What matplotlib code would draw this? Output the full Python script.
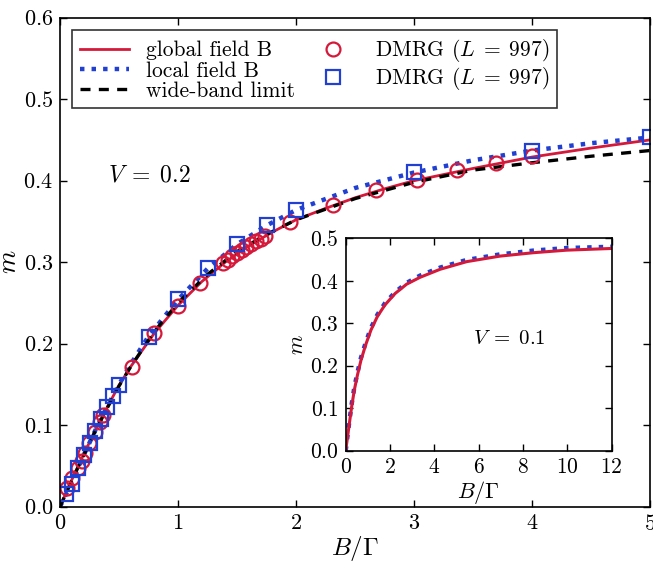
import matplotlib
matplotlib.use("Agg")
import matplotlib.pyplot as plt

plt.rcParams["font.family"] = "serif"
plt.rcParams["font.serif"] = ["cmr10"]
plt.rcParams["mathtext.fontset"] = "cm"
plt.rcParams["axes.formatter.use_mathtext"] = True

RED = "#d4193a"
BLUE = "#2140d2"

# V = 0.2, main panel
B_global = [0, 0.1, 0.2, 0.3, 0.4, 0.5, 0.6, 0.8, 1.0, 1.2, 1.4, 1.6, 1.8, 2.0,
            2.25, 2.5, 2.75, 3.0, 3.5, 4.0, 4.5, 5.0]
m_global = [0, 0.033, 0.064, 0.094, 0.122, 0.149, 0.172, 0.213, 0.247, 0.276,
            0.300, 0.320, 0.337, 0.352, 0.366, 0.379, 0.390, 0.400, 0.415,
            0.429, 0.440, 0.450]

B_local = [0, 0.1, 0.2, 0.3, 0.4, 0.5, 0.6, 0.75, 1.0, 1.25, 1.5, 1.75, 2.0,
           2.5, 3.0, 3.5, 4.0, 4.5, 5.0]
m_local = [0, 0.030, 0.063, 0.094, 0.123, 0.150, 0.175, 0.209, 0.254, 0.292,
           0.322, 0.345, 0.364, 0.391, 0.410, 0.425, 0.437, 0.446, 0.453]

B_wide = [0, 0.05, 0.1, 0.2, 0.3, 0.4, 0.5, 0.6, 0.8, 1.0, 1.25, 1.5, 1.75,
          2.0, 2.5, 3.0, 3.5, 4.0, 4.5, 5.0]
m_wide = [0, 0.016, 0.032, 0.063, 0.093, 0.121, 0.148, 0.172, 0.215, 0.250,
          0.285, 0.313, 0.334, 0.352, 0.378, 0.398, 0.413, 0.422, 0.430, 0.437]

# DMRG, global field
B_dmrg_g = [0.057, 0.099, 0.155, 0.184, 0.212, 0.248, 0.297, 0.339, 0.367,
            0.608, 0.797, 0.997, 1.186, 1.384, 1.42, 1.46, 1.50, 1.54, 1.58,
            1.62, 1.66, 1.70, 1.74, 1.949, 2.316, 2.678, 3.023, 3.362, 3.692,
            4.003]
m_dmrg_g = [0.0226, 0.0356, 0.047, 0.056, 0.0655, 0.078, 0.092, 0.104, 0.1125,
            0.172, 0.213, 0.246, 0.274, 0.299, 0.303, 0.307, 0.311, 0.315,
            0.319, 0.322, 0.326, 0.329, 0.332, 0.349, 0.370, 0.388, 0.401,
            0.413, 0.422, 0.430]

# DMRG, local field
B_dmrg_l = [0.05, 0.1, 0.15, 0.2, 0.25, 0.3, 0.35, 0.4, 0.45, 0.5, 0.75, 1.0,
            1.25, 1.5, 1.75, 2.0, 3.0, 4.0, 5.0]
m_dmrg_l = [0.015, 0.028, 0.047, 0.0634, 0.0785, 0.0929, 0.107, 0.1227, 0.136,
            0.149, 0.2086, 0.2545, 0.2925, 0.322, 0.3456, 0.364, 0.411, 0.4368,
            0.453]

# V = 0.1, inset
B_in = [0, 0.075, 0.165, 0.27, 0.39, 0.53, 0.69, 0.90, 1.14, 1.43, 1.77, 2.23,
        2.75, 3.35, 4.26, 5.46, 6.96, 8.47, 9.97, 12.0]
m_in_global = [0, 0.029, 0.064, 0.104, 0.143, 0.178, 0.213, 0.249, 0.284,
               0.316, 0.343, 0.370, 0.392, 0.408, 0.427, 0.445, 0.458, 0.466,
               0.472, 0.476]
m_in_local = [0, 0.032, 0.069, 0.110, 0.149, 0.184, 0.219, 0.254, 0.289,
              0.320, 0.347, 0.373, 0.395, 0.412, 0.431, 0.449, 0.462, 0.471,
              0.477, 0.480]


def style_axes(ax, size):
    ax.tick_params(which="both", direction="in", top=True, right=True,
                   length=5, width=1, labelsize=size, pad=5)
    for sp in ax.spines.values():
        sp.set_linewidth(1.2)


fig = plt.figure(figsize=(6.53, 5.63), dpi=100)
ax = fig.add_axes([0.0919, 0.1000, 0.9035, 0.8686])

l1, = ax.plot(B_global, m_global, color=RED, lw=2.0, label="global field B")
l2, = ax.plot(B_local, m_local, color=BLUE, lw=3.2, ls=(0, (1, 1.6)),
              label="local field B")
l3, = ax.plot(B_wide, m_wide, color="black", lw=2.4, ls=(0, (3, 2.5)),
              label="wide-band limit")
p1, = ax.plot(B_dmrg_g, m_dmrg_g, ls="none", marker="o", ms=10, mfc="none",
              mec=RED, mew=1.6, label=r"DMRG $(L\;=\;997)$")
p2, = ax.plot(B_dmrg_l, m_dmrg_l, ls="none", marker="s", ms=10, mfc="none",
              mec=BLUE, mew=1.6, label=r"DMRG $(L\;=\;997)$")

ax.set_xlim(0, 5)
ax.set_ylim(0, 0.6)
ax.set_xticks([0, 1, 2, 3, 4, 5])
ax.set_yticks([0.0, 0.1, 0.2, 0.3, 0.4, 0.5, 0.6])
ax.set_xlabel(r"$B/\Gamma$", fontsize=18, labelpad=0)
ax.set_ylabel(r"$m$", fontsize=19)
ax.yaxis.set_label_coords(-0.066, 0.5)
style_axes(ax, 16)

ax.text(0.76, 0.407, r"$V\;=\;0.2$", fontsize=17, ha="center", va="center")

leg = ax.legend(handles=[l1, l2, l3, p1, p2], loc="upper left", ncol=2,
                fontsize=15.5, frameon=True, fancybox=False, numpoints=1,
                handlelength=2.3, handletextpad=0.8, columnspacing=0.6,
                labelspacing=0.03, borderpad=0.35, borderaxespad=0,
                bbox_to_anchor=(0.0203, 0.975))
leg.get_frame().set_edgecolor("black")
leg.get_frame().set_linewidth(1.2)

# inset
axi = fig.add_axes([0.5294, 0.1995, 0.4074, 0.3773])
axi.plot(B_in, m_in_local, color=BLUE, lw=3.2, ls=(0, (1, 1.6)))
axi.plot(B_in, m_in_global, color=RED, lw=2.2)
axi.set_xlim(0, 12)
axi.set_ylim(0, 0.5)
axi.set_xticks([0, 2, 4, 6, 8, 10, 12])
axi.set_yticks([0.0, 0.1, 0.2, 0.3, 0.4, 0.5])
axi.set_xlabel(r"$B/\Gamma$", fontsize=16, labelpad=1)
axi.set_ylabel(r"$m$", fontsize=16, labelpad=2)
style_axes(axi, 15.5)
axi.text(7.4, 0.262, r"$V\;=\;0.1$", fontsize=15, ha="center", va="center")

fig.savefig("out.png", dpi=100)
